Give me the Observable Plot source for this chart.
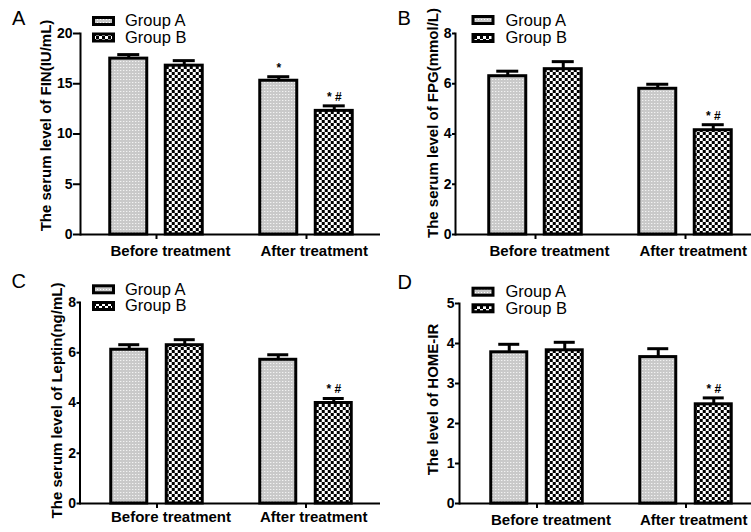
<!DOCTYPE html>
<html>
<head>
<meta charset="utf-8">
<script src="https://cdn.jsdelivr.net/npm/d3@7"></script>
<script src="https://cdn.jsdelivr.net/npm/@observablehq/plot@0.6"></script>
<style>
  html, body { margin: 0; padding: 0; background: #fff; }
  #wrap { position: relative; width: 751px; height: 532px; overflow: hidden; background: #fff; }
  #wrap > svg.panel { position: absolute; }
  #overlay { position: absolute; left: 0; top: 0; pointer-events: none; }
</style>
</head>
<body>
<div id="wrap"></div>
<script>
// ---------------- data ----------------
const categories = ["Before treatment", "After treatment"];
const groups = ["Group A", "Group B"];

// Panel A: FIN (IU/mL)
const finMeanA = [17.5, 15.3];
const finSemA  = [0.4, 0.4];
const finMeanB = [16.8, 12.3];
const finSemB  = [0.5, 0.5];
const finSigA  = ["", "*"];
const finSigB  = ["", "* #"];
const finTicks = [0, 5, 10, 15, 20];

// Panel B: FPG (mmol/L)
const fpgMeanA = [6.3, 5.8];
const fpgSemA  = [0.2, 0.18];
const fpgMeanB = [6.58, 4.15];
const fpgSemB  = [0.3, 0.22];
const fpgSigA  = ["", ""];
const fpgSigB  = ["", "* #"];
const fpgTicks = [0, 2, 4, 6, 8];

// Panel C: Leptin (ng/mL)
const lepMeanA = [6.12, 5.72];
const lepSemA  = [0.2, 0.2];
const lepMeanB = [6.3, 4.0];
const lepSemB  = [0.22, 0.18];
const lepSigA  = ["", ""];
const lepSigB  = ["", "* #"];
const lepTicks = [0, 2, 4, 6, 8];

// Panel D: HOME-IR
const homMeanA = [3.78, 3.66];
const homSemA  = [0.2, 0.21];
const homMeanB = [3.83, 2.48];
const homSemB  = [0.2, 0.16];
const homSigA  = ["", ""];
const homSigB  = ["", "* #"];
const homTicks = [0, 1, 2, 3, 4, 5];

const labels = {
  A: "The serum level of FIN(IU/mL)",
  B: "The serum level of FPG(mmol/L)",
  C: "The serum level of Leptin(ng/mL)",
  D: "The level of HOME-IR"
};

function rows(meanA, semA, sigA, meanB, semB, sigB) {
  const out = [];
  categories.forEach((c, i) => {
    out.push({category: c, group: groups[0], value: meanA[i], sem: semA[i], sig: sigA[i]});
    out.push({category: c, group: groups[1], value: meanB[i], sem: semB[i], sig: sigB[i]});
  });
  return out;
}

// ---------------- layout ----------------
const layout = {
  A: {left: 0,   top: 0,   w: 380, h: 266, ml: 80,   mt: 33, mb: 32, xRange: [80.75, 380.75], labelDx: -34,   labelDy: -8.5, xGap: 11, tick: 7},
  B: {left: 375, top: 0,   w: 376, h: 266, ml: 80,   mt: 33, mb: 32, xRange: [85.25, 385.25], labelDx: -22.5, labelDy: -11,  xGap: 11, tick: 3},
  C: {left: 0,   top: 266, w: 380, h: 266, ml: 79.5, mt: 36, mb: 29, xRange: [81, 380.5],     labelDx: -22.5, labelDy: -2.5, xGap: 8,  tick: 3},
  D: {left: 375, top: 266, w: 376, h: 266, ml: 84,   mt: 37, mb: 29, xRange: [86.75, 385.5],  labelDx: -26.5, labelDy: -4,   xGap: 11, tick: 4}
};

const offsets = {"Group A": -27.75, "Group B": 27.75};
const fills = {"Group A": "url(#patA)", "Group B": "url(#patB)"};
const fontFamily = "'Liberation Sans', Arial, Helvetica, sans-serif";

function panel(key, data, yMax, yTicks) {
  const cfg = layout[key];
  const marks = [];
  for (const g of groups) {
    const d = data.filter(r => r.group === g);
    const dx = offsets[g];
    marks.push(Plot.ruleX(d, {x: "category", y1: "value", y2: r => r.value + r.sem, dx, stroke: "black", strokeWidth: 3}));
    marks.push(Plot.tickY(d, {x: "category", y: r => r.value + r.sem, dx, insetLeft: 64, insetRight: 64, stroke: "black", strokeWidth: 3}));
    marks.push(Plot.barY(d, {x: "category", y: "value", dx, insetLeft: 56.5, insetRight: 56.5, fill: fills[g], stroke: "black", strokeWidth: 3}));
    marks.push(Plot.text(d.filter(r => r.sig), {x: "category", y: r => r.value + r.sem, text: "sig", dx, dy: -5, lineAnchor: "bottom", fontSize: 12, fontWeight: "bold"}));
  }
  marks.push(Plot.ruleY([0], {stroke: "black", strokeWidth: 2}));
  marks.push(Plot.frame({anchor: "left", stroke: "black", strokeWidth: 2}));
  marks.push(Plot.axisY({ticks: yTicks, tickFormat: d => String(d), tickSize: cfg.tick, tickPadding: 1, fontSize: 14, fontWeight: "bold", strokeWidth: 2, label: null}));
  marks.push(Plot.axisX({tickSize: 5, tickFormat: () => "", strokeWidth: 2, label: null}));
  marks.push(Plot.text(categories, {x: d => d, frameAnchor: "bottom", lineAnchor: "top", textAnchor: "start", dx: -46, dy: cfg.xGap, fontSize: 15, fontWeight: "bold"}));
  marks.push(Plot.text([labels[key]], {frameAnchor: "left", textAnchor: "middle", lineAnchor: "middle", rotate: -90, dx: cfg.labelDx, dy: cfg.labelDy, fontSize: 15, fontWeight: "bold"}));

  const svg = Plot.plot({
    width: cfg.w, height: cfg.h,
    marginLeft: cfg.ml, marginRight: 0, marginTop: cfg.mt, marginBottom: cfg.mb,
    x: {type: "band", domain: categories, range: cfg.xRange, padding: 0},
    y: {domain: [0, yMax]},
    style: {fontFamily, color: "black", background: "transparent", overflow: "visible"},
    marks
  });
  svg.classList.add("panel");
  svg.style.left = cfg.left + "px";
  svg.style.top = cfg.top + "px";
  return svg;
}

const wrap = document.getElementById("wrap");
wrap.appendChild(panel("A", rows(finMeanA, finSemA, finSigA, finMeanB, finSemB, finSigB), 20, finTicks));
wrap.appendChild(panel("B", rows(fpgMeanA, fpgSemA, fpgSigA, fpgMeanB, fpgSemB, fpgSigB), 8, fpgTicks));
wrap.appendChild(panel("C", rows(lepMeanA, lepSemA, lepSigA, lepMeanB, lepSemB, lepSigB), 8, lepTicks));
wrap.appendChild(panel("D", rows(homMeanA, homSemA, homSigA, homMeanB, homSemB, homSigB), 5, homTicks));

// ---------------- overlay: patterns, panel letters, legends ----------------
const legendPos = {
  A: {letterX: 12,    letterY: 25,  sx: 92,    sy: [16, 32.5],   tx: 125,   ty: [26, 42.5]},
  B: {letterX: 397.5, letterY: 25,  sx: 471.5, sy: [15, 33],     tx: 505.5, ty: [25.5, 43]},
  C: {letterX: 11.5,  letterY: 288, sx: 92,    sy: [284.3, 301], tx: 125,   ty: [294.5, 311]},
  D: {letterX: 397.5, letterY: 289, sx: 471.5, sy: [286.7, 303.3], tx: 505.5, ty: [297, 314]}
};

const ov = d3.select(wrap).append("svg").attr("id", "overlay").attr("width", 751).attr("height", 532)
  .style("font-family", fontFamily);
const defs = ov.append("defs");
const pA = defs.append("pattern").attr("id", "patA").attr("width", 3).attr("height", 3).attr("patternUnits", "userSpaceOnUse");
pA.append("rect").attr("width", 3).attr("height", 3).attr("fill", "#c9c9c9");
pA.append("rect").attr("x", 1).attr("y", 1).attr("width", 1).attr("height", 1).attr("fill", "#ffffff");
const pB = defs.append("pattern").attr("id", "patB").attr("width", 6).attr("height", 6).attr("patternUnits", "userSpaceOnUse");
pB.append("rect").attr("width", 6).attr("height", 6).attr("fill", "#ffffff");
pB.append("rect").attr("width", 3).attr("height", 3).attr("fill", "#000000");
pB.append("rect").attr("x", 3).attr("y", 3).attr("width", 3).attr("height", 3).attr("fill", "#000000");

for (const key of Object.keys(legendPos)) {
  const p = legendPos[key];
  ov.append("text").attr("x", p.letterX).attr("y", p.letterY).attr("font-size", 20).attr("fill", "black").text(key);
  groups.forEach((g, i) => {
    ov.append("rect").attr("x", p.sx + 1.5).attr("y", p.sy[i] + 1.5).attr("width", 20).attr("height", 7)
      .attr("fill", fills[g]).attr("stroke", "black").attr("stroke-width", 3);
    ov.append("text").attr("x", p.tx).attr("y", p.ty[i]).attr("font-size", 16.5).attr("fill", "black").text(g);
  });
}
</script>
</body>
</html>
